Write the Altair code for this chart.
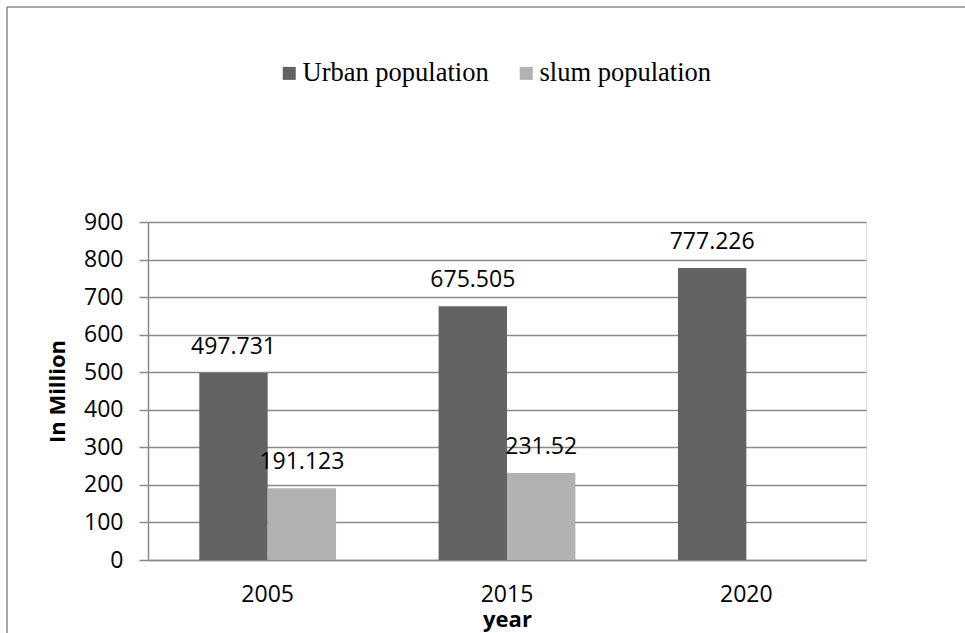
import altair as alt
import pandas as pd

# Urban vs. slum population (millions) by year
years = ["2005", "2015", "2020"]
series = ["Urban population", "slum population"]
urban = [497.731, 675.505, 777.226]
slum = [191.123, 231.52, None]
y_ticks = [0, 100, 200, 300, 400, 500, 600, 700, 800, 900]
bar_colors = ["#636363", "#b2b2b2"]

rows = []
for i, yr in enumerate(years):
    for name, vals in zip(series, [urban, slum]):
        if vals[i] is not None:
            rows.append({"year": yr, "series": name, "value": vals[i]})
df = pd.DataFrame(rows)

W, H = 718, 338
PAD = {"left": 148, "top": 222, "right": 99, "bottom": 73}
GRID = "#8a8a8a"
SANS = "Open Sans"

x_enc = alt.X(
    "year:N",
    sort=years,
    scale=alt.Scale(paddingInner=0.4286, paddingOuter=0.2143),
    axis=alt.Axis(
        title="year",
        labelAngle=0,
        ticks=False,
        tickSize=0,
        labelBaseline="alphabetic",
        labelPadding=41,
        labelFont=SANS,
        labelFontSize=23,
        labelColor="black",
        domainColor=GRID,
        domainWidth=1.5,
        titleFont=SANS,
        titleFontSize=22,
        titleFontWeight="bold",
        titleColor="black",
        titleBaseline="alphabetic",
        titleY=66,
    ),
)
xo_enc = alt.XOffset("series:N", sort=series, scale=alt.Scale(paddingInner=0, paddingOuter=0))
y_enc = alt.Y(
    "value:Q",
    scale=alt.Scale(domain=[0, 900], nice=False),
    axis=alt.Axis(
        title="In Million",
        values=y_ticks,
        grid=True,
        gridColor=GRID,
        gridWidth=1.5,
        tickColor=GRID,
        tickWidth=1.5,
        tickSize=9,
        labelPadding=16,
        labelFont=SANS,
        labelFontSize=23,
        labelColor="black",
        domainColor=GRID,
        domainWidth=1.5,
        titleFont=SANS,
        titleFontSize=22,
        titleFontWeight="bold",
        titleColor="black",
        titleAngle=-90,
        titleAlign="center",
        titleBaseline="middle",
        titleX=-91,
        titleY=H / 2,
    ),
)

bars = alt.Chart(df).mark_bar().encode(
    x=x_enc,
    xOffset=xo_enc,
    y=y_enc,
    color=alt.Color(
        "series:N",
        sort=series,
        scale=alt.Scale(domain=series, range=bar_colors),
        legend=alt.Legend(
            title=None,
            orient="none",
            legendX=128,
            legendY=-162,
            direction="horizontal",
            symbolType="square",
            symbolSize=169,
            symbolStrokeWidth=0,
            labelFont="Liberation Serif",
            labelFontSize=26.5,
            labelColor="black",
            labelOffset=0,
            labelLimit=0,
            columnPadding=24,
            padding=0,
        ),
    ),
)

labels = alt.Chart(df).mark_text(
    dy=-19, baseline="alphabetic", font=SANS, fontSize=23, color="black"
).encode(
    x=x_enc,
    xOffset=xo_enc,
    y=y_enc,
    text=alt.Text("value:Q", format=".3~f"),
)

# outer chart-area border (top and left edges)
one = pd.DataFrame({"k": [0]})
frame_top = alt.Chart(one).mark_rule(color=GRID, strokeWidth=1.5).encode(
    x=alt.value(-141), x2=alt.value(W + PAD["right"]), y=alt.value(-215)
)
frame_left = alt.Chart(one).mark_rule(color=GRID, strokeWidth=1.5).encode(
    x=alt.value(-141), y=alt.value(-215), y2=alt.value(H + PAD["bottom"])
)

chart = (
    alt.layer(bars, labels, frame_top, frame_left)
    .properties(width=W, height=H, padding=PAD, autosize=alt.AutoSizeParams(type="none"))
    .configure_view(stroke=None)
    .configure(background="white")
)

chart.save("out.html", embed_options={"renderer": "svg", "actions": False})
